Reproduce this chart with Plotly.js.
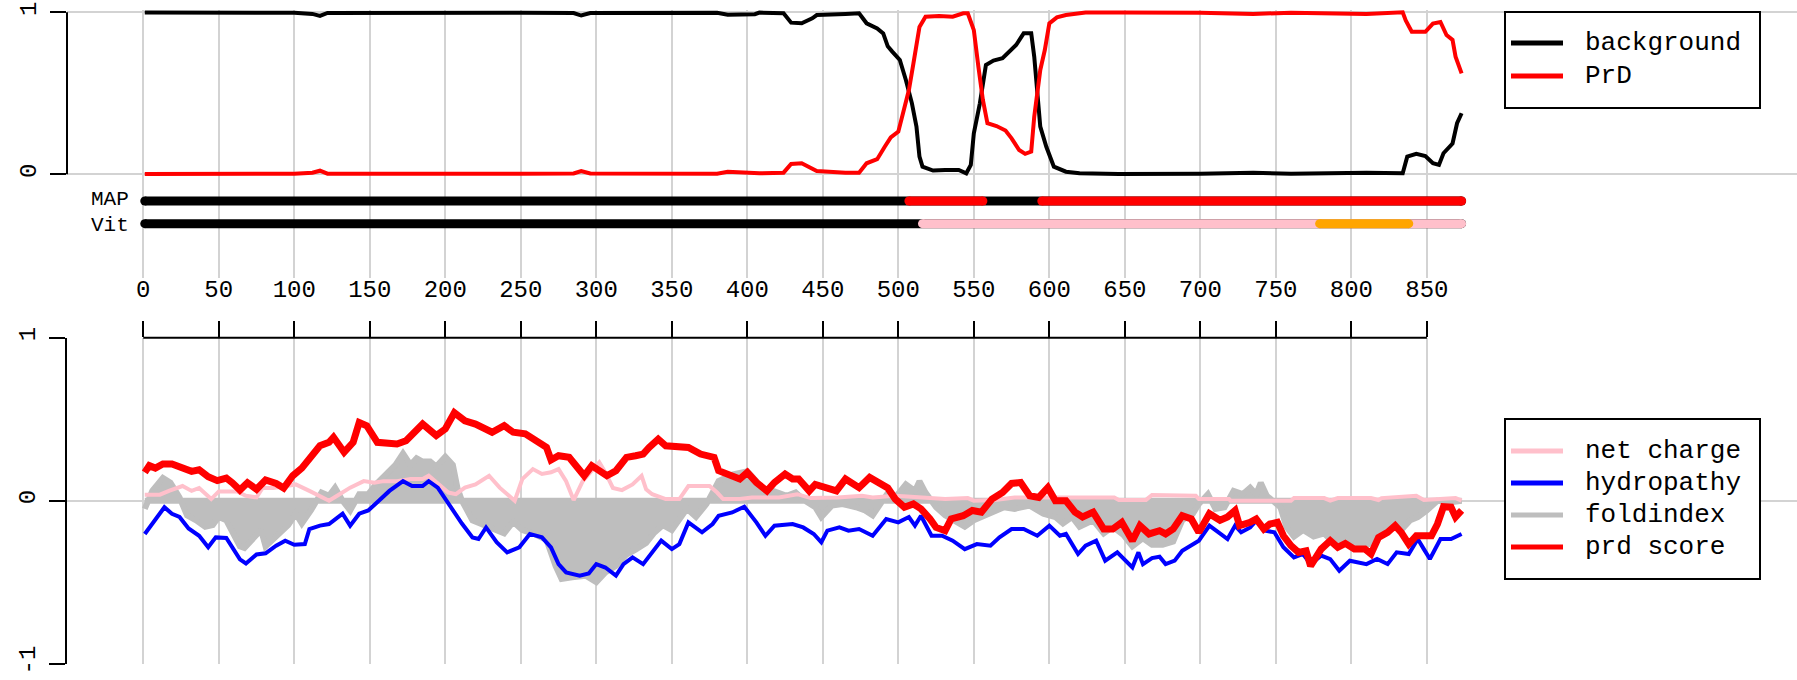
<!DOCTYPE html>
<html><head><meta charset="utf-8">
<script src="https://cdn.plot.ly/plotly-3.0.1.min.js"></script>
<style>html,body{margin:0;padding:0;background:#fff;}</style>
</head><body>
<div id="chart" style="width:1797px;height:680px"></div>
<script>
// ---------- data ----------
const positionTicks = [0,50,100,150,200,250,300,350,400,450,500,550,600,650,700,750,800,850];

const backgroundX = [1,20,50,80,100,112,117,122,150,200,250,285,290,296,340,380,387,405,408,424,429,436,443,446,465,474,479,486,490,493,496,501,505,509,512,514,516,523,531,540,545,548,550,554,558,563,569,574,578,583,588,590,594,598,603,611,620,646,700,735,760,810,834,837,843,849,854,858,861,867,870,873];
const backgroundY = [0.998,0.997,0.996,0.997,0.997,0.99,0.978,0.996,0.997,0.997,0.997,0.995,0.98,0.995,0.997,0.997,0.985,0.988,0.998,0.994,0.936,0.932,0.963,0.983,0.99,0.994,0.932,0.90,0.87,0.79,0.757,0.706,0.582,0.438,0.294,0.109,0.047,0.023,0.027,0.027,0.006,0.058,0.253,0.438,0.675,0.702,0.716,0.757,0.798,0.87,0.87,0.726,0.294,0.17,0.047,0.016,0.006,0.002,0.003,0.01,0.003,0.01,0.006,0.109,0.126,0.113,0.068,0.058,0.13,0.19,0.315,0.377];

const prdX = [1,20,50,80,100,112,117,122,150,200,250,285,290,296,340,380,387,405,408,424,429,436,443,446,465,474,479,486,491,495,500,504,507,510,514,518,527,536,543,546,550,553,556,559,565,571,575,580,584,588,590,594,597,600,605,611,624,646,700,735,760,810,834,836,840,849,854,859,863,867,869,873];
const prdY = [0.002,0.003,0.004,0.003,0.003,0.01,0.022,0.004,0.003,0.003,0.003,0.005,0.02,0.005,0.003,0.003,0.015,0.012,0.006,0.01,0.064,0.068,0.037,0.02,0.01,0.01,0.068,0.093,0.17,0.228,0.263,0.397,0.52,0.685,0.91,0.973,0.977,0.973,0.994,0.994,0.89,0.665,0.459,0.315,0.298,0.27,0.222,0.15,0.126,0.14,0.356,0.644,0.767,0.932,0.969,0.983,0.998,0.998,0.997,0.99,0.997,0.99,1.0,0.95,0.88,0.88,0.93,0.94,0.86,0.83,0.726,0.623];

// track segments (start, end, state)
const mapStart = [1,507,595];
const mapEnd   = [873,556,873];
const mapState = ['background','PrD','PrD'];
const vitStart = [1,516,779];
const vitEnd   = [873,873,838];
const vitState = ['background','PrD','core'];
const trackNames = ['MAP','Vit'];

const scoreX = [1,4,8,13,19,26,32,37,43,49,55,59,64,69,75,81,88,93,99,105,111,117,123,126,133,139,143,148,155,161,168,174,181,185,194,200,206,213,220,228,231,239,245,253,262,267,270,275,282,287,292,297,302,307,313,320,326,331,335,341,346,355,361,369,378,381,388,395,400,406,413,418,425,430,434,441,445,452,459,465,474,481,487,493,498,504,510,515,521,525,531,535,543,549,555,562,569,575,581,587,593,599,604,611,617,622,629,636,642,648,655,660,666,673,677,682,688,694,699,706,713,718,723,726,733,737,742,746,751,755,760,765,770,773,780,786,791,796,802,809,813,818,824,829,833,838,843,847,853,857,861,866,869,873];
const scoreY = [0.174,0.215,0.20,0.225,0.225,0.20,0.18,0.19,0.147,0.123,0.139,0.11,0.065,0.11,0.07,0.127,0.106,0.078,0.153,0.20,0.276,0.337,0.358,0.389,0.297,0.358,0.48,0.46,0.358,0.358,0.348,0.368,0.43,0.47,0.40,0.44,0.54,0.49,0.47,0.44,0.42,0.46,0.42,0.41,0.358,0.327,0.25,0.276,0.266,0.215,0.153,0.215,0.184,0.153,0.184,0.266,0.276,0.286,0.327,0.378,0.337,0.337,0.327,0.286,0.266,0.184,0.164,0.133,0.174,0.112,0.06,0.112,0.164,0.133,0.133,0.06,0.10,0.08,0.06,0.133,0.08,0.143,0.112,0.078,0.01,-0.04,-0.02,-0.05,-0.112,-0.164,-0.184,-0.112,-0.092,-0.06,-0.07,0.01,0.05,0.106,0.112,0.03,0.02,0.08,0,0,-0.07,-0.10,-0.07,-0.174,-0.174,-0.133,-0.245,-0.153,-0.204,-0.184,-0.204,-0.174,-0.092,-0.112,-0.194,-0.08,-0.12,-0.10,-0.06,-0.153,-0.133,-0.112,-0.174,-0.143,-0.133,-0.215,-0.276,-0.317,-0.307,-0.40,-0.297,-0.245,-0.286,-0.262,-0.297,-0.297,-0.327,-0.225,-0.194,-0.153,-0.194,-0.266,-0.215,-0.215,-0.215,-0.143,-0.037,-0.04,-0.10,-0.06];

const hydroX = [1,4,8,14,19,24,30,37,43,48,55,59,64,68,75,81,88,94,100,107,110,117,123,132,137,143,149,156,163,172,178,185,189,195,200,207,211,218,222,227,234,241,249,256,264,270,275,280,289,295,300,306,313,318,324,331,338,343,350,355,361,370,377,381,390,398,406,412,418,430,437,444,449,453,461,467,474,483,492,500,507,511,515,522,529,536,544,552,561,567,575,583,592,600,607,611,619,624,631,637,645,655,659,662,668,673,677,683,688,694,699,706,713,718,723,727,733,737,743,749,755,762,768,773,780,786,792,799,810,817,824,830,838,844,848,852,859,866,873];
const hydroY = [-0.204,-0.164,-0.11,-0.04,-0.08,-0.10,-0.17,-0.215,-0.286,-0.225,-0.229,-0.286,-0.36,-0.385,-0.33,-0.323,-0.276,-0.245,-0.27,-0.266,-0.174,-0.153,-0.143,-0.08,-0.153,-0.08,-0.06,0,0.06,0.12,0.09,0.09,0.12,0.08,0.01,-0.08,-0.14,-0.225,-0.235,-0.164,-0.255,-0.317,-0.286,-0.204,-0.225,-0.286,-0.389,-0.44,-0.46,-0.446,-0.389,-0.41,-0.46,-0.389,-0.348,-0.389,-0.307,-0.245,-0.297,-0.266,-0.133,-0.194,-0.143,-0.092,-0.072,-0.037,-0.133,-0.215,-0.153,-0.143,-0.164,-0.204,-0.255,-0.184,-0.164,-0.184,-0.174,-0.215,-0.112,-0.133,-0.10,-0.153,-0.092,-0.215,-0.215,-0.245,-0.297,-0.266,-0.276,-0.225,-0.174,-0.174,-0.215,-0.153,-0.215,-0.204,-0.327,-0.276,-0.245,-0.368,-0.317,-0.409,-0.317,-0.389,-0.352,-0.344,-0.389,-0.368,-0.307,-0.276,-0.245,-0.153,-0.204,-0.235,-0.153,-0.194,-0.164,-0.123,-0.184,-0.194,-0.286,-0.348,-0.327,-0.389,-0.337,-0.358,-0.43,-0.368,-0.389,-0.358,-0.389,-0.317,-0.327,-0.235,-0.297,-0.358,-0.235,-0.235,-0.204];

const chargeX = [1,11,17,26,32,37,45,50,62,68,75,79,86,94,101,110,117,123,130,137,146,153,159,168,177,185,189,196,202,207,213,220,229,236,242,246,251,258,264,270,275,280,285,291,296,302,306,311,317,324,330,333,337,346,355,361,369,375,380,384,395,403,421,433,442,460,476,483,498,511,531,546,550,564,577,599,643,646,664,668,697,699,719,720,760,762,782,786,791,813,818,820,843,848,866,869,873];
const chargeY = [0.037,0.037,0.06,0.09,0.06,0.078,0.01,0.057,0.057,0.03,0.02,0.078,0.078,0.09,0.10,0.06,0.03,0.0,0.04,0.08,0.12,0.11,0.12,0.12,0.133,0.133,0.153,0.10,0.05,0.04,0.08,0.10,0.153,0.08,0.03,0.0,0.133,0.194,0.164,0.174,0.194,0.12,0.004,0.12,0.174,0.235,0.174,0.078,0.065,0.10,0.153,0.07,0.04,0.01,0.01,0.09,0.09,0.09,0.05,0.01,0.01,0.02,0.02,0.04,0.016,0.02,0.03,0.02,0.03,0.02,0.01,0.016,0.0,0.004,0.02,0.02,0.02,0.005,0.005,0.035,0.03,0.01,0.01,0.0,0.0,0.016,0.016,0.0,0.016,0.016,0.004,0.016,0.03,0.004,0.01,0.016,0.0];

const foldX = [1,6,13,18,24,29,35,41,46,50,55,59,64,67,72,78,81,86,90,96,101,105,111,118,123,127,132,137,143,149,154,163,167,172,177,181,185,190,194,200,205,208,211,218,225,231,239,245,251,258,267,273,277,284,293,300,306,313,320,326,333,338,344,350,355,360,366,373,377,381,390,400,406,411,417,426,432,438,445,449,456,463,472,478,483,489,494,498,505,511,514,518,525,531,537,544,550,557,564,570,577,587,596,604,609,615,620,629,636,642,649,655,662,668,675,682,688,695,699,705,710,716,722,728,733,737,740,744,748,753,757,762,768,775,782,788,795,802,808,813,820,826,833,839,844,850,857,866,873];
const foldY = [-0.05,0.06,0.14,0.11,0.02,-0.09,-0.12,-0.16,-0.15,-0.10,-0.12,-0.20,-0.28,-0.29,-0.24,-0.18,-0.28,-0.24,-0.20,-0.15,-0.08,-0.14,-0.06,0.05,0.03,0.08,0.0,-0.06,0.04,0.04,0.10,0.18,0.22,0.29,0.22,0.26,0.24,0.24,0.21,0.27,0.22,0.08,0.0,-0.12,-0.15,-0.17,-0.2,-0.13,-0.18,-0.2,-0.24,-0.4,-0.48,-0.47,-0.46,-0.5,-0.44,-0.40,-0.33,-0.30,-0.26,-0.2,-0.15,-0.18,-0.12,-0.05,-0.1,-0.02,0.05,0.12,0.16,0.18,0.12,0.05,0.06,0.03,0.05,0.0,-0.04,-0.1,-0.03,-0.02,-0.04,-0.06,-0.09,0.0,0.06,0.02,0.1,0.06,0.12,0.05,-0.04,-0.09,-0.12,-0.16,-0.12,-0.09,-0.06,-0.04,-0.05,-0.03,-0.08,-0.1,-0.14,-0.10,-0.16,-0.12,-0.2,-0.16,-0.21,-0.28,-0.23,-0.27,-0.27,-0.25,-0.12,-0.08,-0.02,0.04,-0.05,-0.04,0.06,0.04,0.08,0.04,0.11,0.03,0.0,-0.04,-0.16,-0.22,-0.18,-0.22,-0.2,-0.26,-0.26,-0.28,-0.28,-0.26,-0.2,-0.15,-0.18,-0.12,-0.1,-0.06,0.0,-0.01,0.0];

const topLegendNames = ['background','PrD'];
const bottomLegendNames = ['net charge','hydropathy','foldindex','prd score'];

// ---------- styling / geometry ----------
const W = 1797, H = 680, L = 67;
const FONT = 'Liberation Mono, DejaVu Sans Mono, monospace';
const GRID = '#D3D3D3';
const C = {black:'#000000', red:'#FF0000', pink:'#FFC0CB', blue:'#0000FF', gray:'#BEBEBE', orange:'#FFA500'};
const stateColor = {background: C.black, PrD: C.red};
const vitColor = {background: C.black, PrD: C.pink, core: C.orange};
const px = v => (v - L) / (W - L);   // pixel x -> paper
const py = v => 1 - v / H;           // pixel y -> paper

const trackY = {MAP: -0.165, Vit: -0.305};
const labelShift = {MAP: -2, Vit: 2};   // small pixel nudge of the track labels

const traces = [];
traces.push({x: backgroundX, y: backgroundY, xaxis:'x', yaxis:'y', mode:'lines',
  line:{color:C.black, width:4}, showlegend:false, hoverinfo:'skip'});
traces.push({x: prdX, y: prdY, xaxis:'x', yaxis:'y', mode:'lines',
  line:{color:C.red, width:4}, showlegend:false, hoverinfo:'skip'});

function addTrack(name, starts, ends, states, colorMap){
  for (let i = 0; i < starts.length; i++){
    const col = colorMap[states[i]];
    traces.push({x:[starts[i], ends[i]], y:[trackY[name], trackY[name]], xaxis:'x', yaxis:'y',
      mode:'lines+markers', line:{color:col, width:9}, marker:{color:col, size:9, line:{width:0}},
      showlegend:false, hoverinfo:'skip', cliponaxis:false});
  }
}
addTrack('MAP', mapStart, mapEnd, mapState, stateColor);
addTrack('Vit', vitStart, vitEnd, vitState, vitColor);

// foldindex as filled polygon down to zero
const polyX = foldX.concat(foldX.slice().reverse());
const polyY = foldY.concat(foldX.map(() => 0));
traces.push({x: polyX, y: polyY, xaxis:'x2', yaxis:'y2', mode:'lines', fill:'toself',
  fillcolor:C.gray, line:{color:C.gray, width:6}, showlegend:false, hoverinfo:'skip'});
traces.push({x: chargeX, y: chargeY, xaxis:'x2', yaxis:'y2', mode:'lines',
  line:{color:C.pink, width:4}, showlegend:false, hoverinfo:'skip'});
traces.push({x: hydroX, y: hydroY, xaxis:'x2', yaxis:'y2', mode:'lines',
  line:{color:C.blue, width:4}, showlegend:false, hoverinfo:'skip'});
traces.push({x: scoreX, y: scoreY, xaxis:'x2', yaxis:'y2', mode:'lines',
  line:{color:C.red, width:7}, showlegend:false, hoverinfo:'skip'});

const xr = [-50.5, 1095.1];
const shapes = [];
const annotations = [];

// top y axis line (0..1), bottom x axis line (0..850)
shapes.push({type:'line', xref:'paper', yref:'y', x0:0, x1:0, y0:0, y1:1, line:{color:'black', width:2}});
shapes.push({type:'line', xref:'x2', yref:'paper', x0:positionTicks[0], x1:positionTicks[positionTicks.length-1],
  y0:py(337.7), y1:py(337.7), line:{color:'black', width:2}});

// track labels
trackNames.forEach(n => annotations.push({xref:'x', yref:'y', x:-9, y:trackY[n], yshift:-labelShift[n], text:n, showarrow:false,
  xanchor:'right', yanchor:'middle', borderpad:0, font:{family:FONT, size:21, color:'black'}}));

// custom legends
function legend(names, colors, box, rows){
  shapes.push({type:'rect', xref:'paper', yref:'paper', x0:px(box[0]), x1:px(box[2]), y0:py(box[3]), y1:py(box[1]),
    line:{color:'black', width:2}, fillcolor:'white', layer:'above'});
  names.forEach((n, i) => {
    shapes.push({type:'line', xref:'paper', yref:'paper', x0:px(1511), x1:px(1563), y0:py(rows[i]), y1:py(rows[i]),
      line:{color:colors[i], width:5}, layer:'above'});
    annotations.push({xref:'paper', yref:'paper', x:px(1583), y:py(rows[i]), text:n, showarrow:false,
      xanchor:'left', yanchor:'middle', font:{family:FONT, size:26, color:'black'}});
  });
}
legend(topLegendNames, [C.black, C.red], [1505, 12, 1760, 108], [43, 76]);
legend(bottomLegendNames, [C.pink, C.blue, C.gray, C.red], [1505, 419, 1760, 579], [451, 483, 515, 547]);

const layout = {
  width: W, height: H,
  margin: {l: L, r: 0, t: 0, b: 0, pad: 0},
  paper_bgcolor: 'white', plot_bgcolor: 'white',
  font: {family: FONT, size: 24, color: 'black'},
  showlegend: false,
  xaxis: {domain:[0,1], anchor:'y', range: xr, tickvals: positionTicks, showticklabels:false, ticks:'',
    showgrid:true, gridcolor:GRID, gridwidth:2, zeroline:false, showline:false, fixedrange:true},
  yaxis: {domain:[py(278), py(10)], anchor:'x', range:[-0.6403, 1.0142], tickvals:[0,1], ticktext:['0','1'],
    ticks:'outside', ticklen:16, tickwidth:2, tickcolor:'black', tickangle:-90, ticklabelstandoff:4,
    tickfont:{family:FONT, size:24}, showgrid:true, gridcolor:GRID, gridwidth:2, zeroline:false, showline:false},
  xaxis2: {domain:[0,1], anchor:'y2', side:'top', range: xr, tickvals: positionTicks, ticktext: positionTicks.map(String),
    ticks:'outside', ticklen:16, tickwidth:2, tickcolor:'black', ticklabelstandoff:14,
    tickfont:{family:FONT, size:24}, showgrid:true, gridcolor:GRID, gridwidth:2, zeroline:false, showline:false},
  yaxis2: {domain:[py(663.7), py(337.7)], anchor:'x2', range:[-1,1], tickvals:[-1,0,1], ticktext:['-1','0','1'],
    ticks:'outside', ticklen:16, tickwidth:2, tickcolor:'black', tickangle:-90, ticklabelstandoff:4,
    tickfont:{family:FONT, size:24}, showgrid:true, gridcolor:GRID, gridwidth:2, zeroline:false,
    showline:true, linecolor:'black', linewidth:2},
  shapes: shapes,
  annotations: annotations
};

Plotly.newPlot('chart', traces, layout, {staticPlot:true, displayModeBar:false});
</script>
</body></html>
